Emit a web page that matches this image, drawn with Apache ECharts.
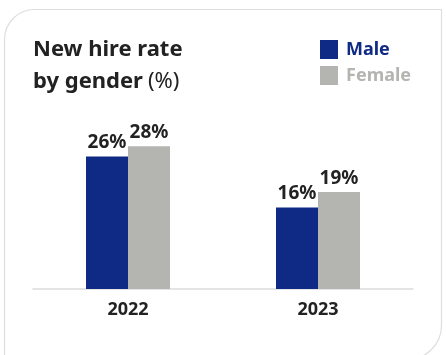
<!DOCTYPE html>
<html>
<head>
<meta charset="utf-8">
<script src="https://cdn.jsdelivr.net/npm/echarts@6/dist/echarts.min.js"></script>
<style>
  html, body { margin: 0; padding: 0; background: #ffffff; }
  #chart { width: 446px; height: 355px; }
</style>
</head>
<body>
<div id="chart"></div>
<script>
// New hire rate by gender, in percent
const years = ['2022', '2023'];
const maleRate = [26, 16];
const femaleRate = [28, 19];
const seriesNames = ['Male', 'Female'];

const MALE_COLOR = '#0e2a84';
const FEMALE_COLOR = '#b4b5b1';
const TEXT_DARK = '#222222';
const FONT = '"Noto Sans", "Open Sans", sans-serif';

const chart = echarts.init(document.getElementById('chart'), null, { renderer: 'canvas' });

const valueLabel = {
  show: true,
  position: 'top',
  distance: 4,
  formatter: '{c}%',
  color: TEXT_DARK,
  fontFamily: FONT,
  fontWeight: 'bold',
  fontSize: 19
};

chart.setOption({
  animation: false,
  backgroundColor: '#ffffff',
  graphic: [{
    type: 'rect',
    z: -10,
    silent: true,
    shape: { x: 4.5, y: 9.5, width: 437, height: 350, r: [30, 0, 34, 0] },
    style: { fill: '#ffffff', stroke: '#dedede', lineWidth: 1.2 }
  }],
  title: {
    left: 33,
    top: 34,
    padding: 0,
    text: '{b|New hire rate}\n{b|by gender} {n|(%)}',
    textStyle: {
      rich: {
        b: { fontFamily: FONT, fontWeight: 'bold', fontSize: 22, color: TEXT_DARK, lineHeight: 32 },
        n: { fontFamily: FONT, fontWeight: 'normal', fontSize: 22, color: TEXT_DARK, lineHeight: 32 }
      }
    }
  },
  legend: {
    orient: 'vertical',
    left: 320,
    top: 40,
    padding: 0,
    itemWidth: 18,
    itemHeight: 19,
    itemGap: 7,
    icon: 'rect',
    selectedMode: false,
    textStyle: { fontFamily: FONT, fontWeight: 'bold', fontSize: 18, padding: [0, 0, 0, 3] },
    data: [
      { name: seriesNames[0], textStyle: { color: MALE_COLOR } },
      { name: seriesNames[1], textStyle: { color: FEMALE_COLOR } }
    ]
  },
  grid: { left: 33, right: 33, top: 85, bottom: 66 },
  xAxis: {
    type: 'category',
    data: years,
    axisLine: { lineStyle: { color: '#dcdcdc', width: 1.5 } },
    axisTick: { show: false },
    axisLabel: {
      margin: 12,
      color: TEXT_DARK,
      fontFamily: FONT,
      fontWeight: 'bold',
      fontSize: 18
    }
  },
  yAxis: {
    type: 'value',
    min: 0,
    max: 40,
    show: false,
    splitLine: { show: false }
  },
  series: [
    {
      name: seriesNames[0],
      type: 'bar',
      data: maleRate,
      barWidth: 42,
      barGap: '0%',
      itemStyle: { color: MALE_COLOR },
      label: valueLabel
    },
    {
      name: seriesNames[1],
      type: 'bar',
      data: femaleRate,
      barWidth: 42,
      barGap: '0%',
      itemStyle: { color: FEMALE_COLOR },
      label: valueLabel
    }
  ]
});
</script>
</body>
</html>
